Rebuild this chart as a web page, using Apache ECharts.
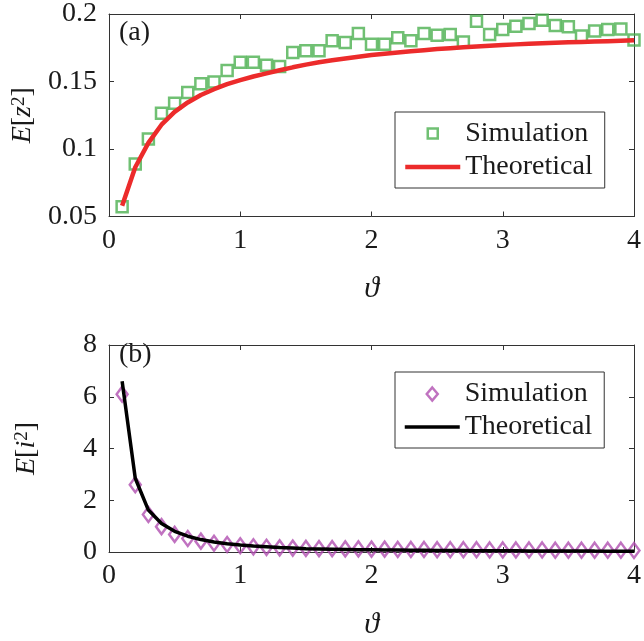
<!DOCTYPE html>
<html><head><meta charset="utf-8">
<script src="https://cdn.jsdelivr.net/npm/echarts@6/dist/echarts.min.js"></script>
<style>html,body{margin:0;padding:0;background:#fff}#c{width:644px;height:641px}</style>
</head><body><div id="c"></div>
<script>
const theta = [0.1,0.2,0.3,0.4,0.5,0.6,0.7,0.8,0.9,1.0,1.1,1.2,1.3,1.4,1.5,1.6,1.7,1.8,1.9,2.0,2.1,2.2,2.3,2.4,2.5,2.6,2.7,2.8,2.9,3.0,3.1,3.2,3.3,3.4,3.5,3.6,3.7,3.8,3.9,4.0];
const simA = [0.0572,0.0888,0.1075,0.1265,0.1338,0.1418,0.1484,0.1496,0.1582,0.1642,0.1642,0.1620,0.1611,0.1715,0.1728,0.1728,0.1801,0.1788,0.1856,0.1776,0.1776,0.1825,0.1801,0.1856,0.1842,0.1849,0.1793,0.1947,0.1849,0.1885,0.1910,0.1929,0.1954,0.1915,0.1905,0.1837,0.1874,0.1885,0.1888,0.1808];
const theoA = [0.058,0.0865,0.1045,0.118,0.1275,0.1345,0.140,0.1443,0.148,0.151,0.1537,0.156,0.1583,0.1605,0.1625,0.1642,0.1657,0.1671,0.1684,0.1696,0.1706,0.1715,0.1724,0.1732,0.174,0.1747,0.1753,0.1759,0.1765,0.177,0.1775,0.1779,0.1783,0.1787,0.179,0.1793,0.1796,0.1799,0.1802,0.1805];
const simB = [6.1,2.6,1.45,0.98,0.68,0.52,0.42,0.34,0.29,0.24,0.2,0.18,0.16,0.15,0.14,0.13,0.13,0.12,0.12,0.11,0.11,0.1,0.1,0.1,0.09,0.09,0.09,0.09,0.08,0.08,0.08,0.08,0.08,0.07,0.07,0.07,0.07,0.07,0.07,0.06];
const theoB = [6.6,2.85,1.62,1.1,0.8,0.61,0.48,0.39,0.32,0.27,0.23,0.2,0.17,0.15,0.13,0.12,0.11,0.1,0.09,0.085,0.08,0.075,0.07,0.066,0.062,0.058,0.055,0.052,0.05,0.047,0.045,0.043,0.041,0.039,0.037,0.036,0.034,0.033,0.032,0.03];
const seriesNames = ['Simulation','Theoretical'];
const panelLabels = ['(a)','(b)'];
const xRange = [0, 4, 1];
const yRangeA = [0.05, 0.2, 0.05];
const yRangeB = [0, 8, 2];

const FONT = "'Liberation Serif', 'DejaVu Serif', serif";
const AXC = '#333333';
const TXT = '#1a1a1a';
const GREEN = '#4cb050', RED = '#ec2b2b', PURPLE = '#b04fb0', BLACK = '#000000';
// legend icons: invisible corner moves fix the icon box so the symbol stays centred and unstretched
const ICON_SQUARE = 'path://M0,0M55,14M22.5,1.5L32.5,1.5L32.5,11.5L22.5,11.5Z';
const ICON_DIAMOND = 'path://M0,0M55,14M27.5,0.5L33,7L27.5,13.5L22,7Z';

function pairs(xs, ys){ return xs.map((x,i)=>[x, ys[i]]); }

function xAx(grid, pos, show, nameShow){
  return {
    type:'value', gridIndex:grid, position:pos, min:xRange[0], max:xRange[1], interval:xRange[2],
    axisLine:{show:true, onZero:false, lineStyle:{color:AXC, width:1}},
    axisTick:{show:true, inside:true, length:5, lineStyle:{color:AXC}},
    axisLabel:{show:show, margin:10, fontFamily:FONT, fontSize:28, color:TXT},
    splitLine:{show:false},
    name: nameShow ? 'ϑ' : '', nameLocation:'middle', nameGap:58,
    nameTextStyle:{fontFamily:FONT, fontStyle:'italic', fontSize:30, color:TXT}
  };
}
function yAx(grid, pos, rng, show, name){
  return {
    type:'value', gridIndex:grid, position:pos, min:rng[0], max:rng[1], interval:rng[2],
    axisLine:{show:true, onZero:false, lineStyle:{color:AXC, width:1}},
    axisTick:{show:true, inside:true, length:5, lineStyle:{color:AXC}},
    axisLabel:{show:show, margin:12, fontFamily:FONT, fontSize:28, color:TXT},
    splitLine:{show:false},
    name: name || '', nameLocation:'middle', nameGap:68, nameRotate:90,
    nameTextStyle:{fontFamily:FONT, fontSize:28, color:TXT,
      rich:{ i:{fontFamily:FONT, fontStyle:'italic', fontSize:28, color:TXT},
             n:{fontFamily:FONT, fontSize:28, color:TXT},
             s:{fontFamily:FONT, fontSize:19, color:TXT, verticalAlign:'top', padding:[0,0,8,0]} }}
  };
}
function legendAt(top, symColor, symIcon, lineColor, lineW){
  return {
    orient:'vertical', left:395, top:top, padding:[8,12,7,8], itemGap:5,
    itemWidth:55, itemHeight:14, borderColor:AXC, borderWidth:1, backgroundColor:'#fff',
    textStyle:{fontFamily:FONT, fontSize:28, color:TXT},
    data:[
      {name:seriesNames[0], icon:symIcon,
       itemStyle:{color:'rgba(0,0,0,0)', borderColor:symColor, borderWidth:2.5}},
      {name:seriesNames[1], itemStyle:{color:'rgba(0,0,0,0)', borderColor:'rgba(0,0,0,0)', borderWidth:0},
       lineStyle:{color:lineColor, width:lineW}}
    ]
  };
}

const chart = echarts.init(document.getElementById('c'), null, {renderer:'canvas'});
chart.setOption({
  animation:false,
  backgroundColor:'#fff',
  grid:[
    {left:109, top:11, width:525, height:205.5},
    {left:109, top:345, width:525, height:208}
  ],
  xAxis:[ xAx(0,'bottom',true,true), xAx(0,'top',false,false), xAx(1,'bottom',true,true), xAx(1,'top',false,false) ],
  yAxis:[ yAx(0,'left',yRangeA,true,'{i|E}{n|[}{i|z}{s|2}{n|]}'), yAx(0,'right',yRangeA,false,''),
          yAx(1,'left',yRangeB,true,'{i|E}{n|[}{i|i}{s|2}{n|]}'), yAx(1,'right',yRangeB,false,'') ],
  legend:[
    legendAt(112, GREEN, ICON_SQUARE, RED, 4.5),
    legendAt(372, PURPLE, ICON_DIAMOND, BLACK, 3.5)
  ],
  graphic:[
    {type:'text', left:119, top:19, style:{text:panelLabels[0], font:"28px 'Liberation Serif'", fill:TXT}},
    {type:'text', left:119, top:341, style:{text:panelLabels[1], font:"28px 'Liberation Serif'", fill:TXT}}
  ],
  series:[
    {name:seriesNames[0], type:'scatter', xAxisIndex:0, yAxisIndex:0, data:pairs(theta, simA),
     symbol:'rect', symbolSize:11, itemStyle:{color:'transparent', borderColor:GREEN, borderWidth:2.5}, z:2},
    {name:seriesNames[1], type:'line', xAxisIndex:0, yAxisIndex:0, data:pairs(theta, theoA),
     showSymbol:false, symbol:'none', smooth:false, lineStyle:{color:RED, width:4.5}, itemStyle:{color:RED}, z:3},
    {name:seriesNames[0], type:'scatter', xAxisIndex:2, yAxisIndex:2, data:pairs(theta, simB),
     symbol:'diamond', symbolSize:[11,15], itemStyle:{color:'transparent', borderColor:PURPLE, borderWidth:2.5}, z:2},
    {name:seriesNames[1], type:'line', xAxisIndex:2, yAxisIndex:2, data:pairs(theta, theoB),
     showSymbol:false, symbol:'none', lineStyle:{color:BLACK, width:3.5}, itemStyle:{color:BLACK}, z:3}
  ]
});
</script></body></html>
